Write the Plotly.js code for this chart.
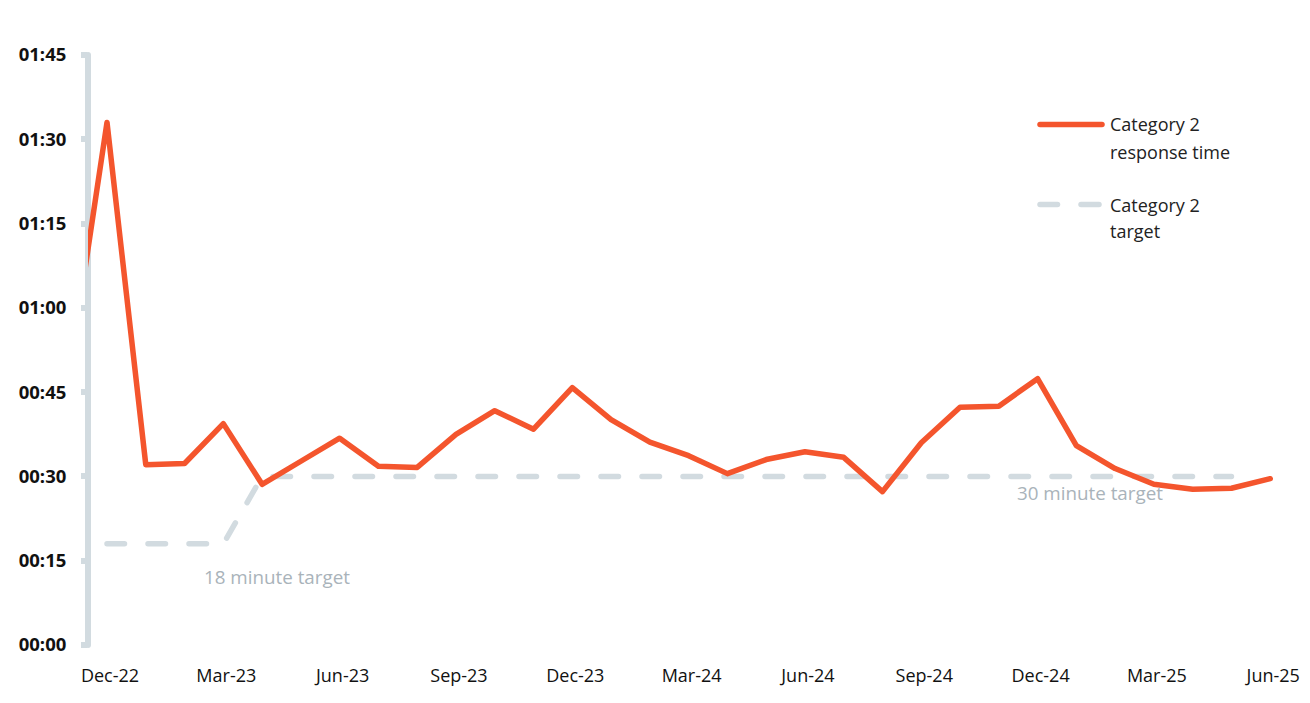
<!DOCTYPE html>
<html>
<head>
<meta charset="utf-8">
<script src="https://cdn.plot.ly/plotly-3.0.1.min.js"></script>
<style>
  html, body { margin: 0; padding: 0; background: #fff; }
  #chart { width: 1310px; height: 703px; }
  .scatterlayer .js-line { stroke-linecap: round !important; stroke-linejoin: round !important; }
  .shapelayer path.legend-cap { stroke-linecap: round !important; }
</style>
</head>
<body>
<div id="chart"></div>
<script>
// ---- data ----
const months = ['Nov-22','Dec-22','Jan-23','Feb-23','Mar-23','Apr-23','May-23','Jun-23','Jul-23','Aug-23',
  'Sep-23','Oct-23','Nov-23','Dec-23','Jan-24','Feb-24','Mar-24','Apr-24','May-24','Jun-24','Jul-24',
  'Aug-24','Sep-24','Oct-24','Nov-24','Dec-24','Jan-25','Feb-25','Mar-25','Apr-25','May-25','Jun-25'];
// response time in minutes
const responseTime = [47, 93.0, 32.1, 32.3, 39.4, 28.6, 32.7, 36.8, 31.8, 31.6,
  37.5, 41.7, 38.4, 45.8, 40.1, 36.1, 33.7, 30.5, 33.0, 34.4, 33.4,
  27.3, 36.0, 42.3, 42.5, 47.4, 35.5, 31.4, 28.6, 27.7, 27.9, 29.6];
const targetMonths = months.slice(1, 31); // Dec-22 .. May-25
const targetValues = [18, 18, 18, 18, 30, 30, 30, 30, 30, 30, 30, 30, 30, 30, 30, 30, 30, 30, 30, 30,
  30, 30, 30, 30, 30, 30, 30, 30, 30, 30];
const xTickVals = ['Dec-22','Mar-23','Jun-23','Sep-23','Dec-23','Mar-24','Jun-24','Sep-24','Dec-24','Mar-25','Jun-25'];
const yTickVals = [0, 15, 30, 45, 60, 75, 90, 105];
const yTickText = ['00:00','00:15','00:30','00:45','01:00','01:15','01:30','01:45'];
const seriesNames = ['Category 2<br>response time', 'Category 2<br>target'];

// ---- layout helpers ----
const W = 1310, H = 703;
const M = { l: 88, r: 20, t: 55, b: 58 };
const px = x => (x - M.l) / (W - M.l - M.r);
const py = y => (H - M.b - y) / (H - M.t - M.b);

const ORANGE = '#F4552D';
const GREY = '#D2DBE0';
const LABELGREY = '#A9B3BA';
const FONT = '"Open Sans", "Noto Sans", sans-serif';

const traces = [
  {
    x: targetMonths, y: targetValues, type: 'scatter', mode: 'lines',
    name: seriesNames[1], showlegend: false,
    line: { color: GREY, width: 5.5, dash: '17.5px,23.5px' },
    hoverinfo: 'skip'
  },
  {
    x: months, y: responseTime, type: 'scatter', mode: 'lines',
    name: seriesNames[0], showlegend: false,
    line: { color: ORANGE, width: 5.5 },
    hoverinfo: 'skip'
  }
];

const legendLines = seriesNames.map(s => s.split('<br>'));

const annotations = [
  { xref: 'x', yref: 'y', x: 5.38, y: 12.1, text: '18 minute target', showarrow: false,
    font: { family: FONT, size: 18.8, color: LABELGREY }, xanchor: 'center', yanchor: 'middle' },
  { xref: 'x', yref: 'y', x: 26.35, y: 27.0, text: '30 minute target', showarrow: false,
    font: { family: FONT, size: 18.8, color: LABELGREY }, xanchor: 'center', yanchor: 'middle' },
  { xref: 'paper', yref: 'paper', x: px(1108), y: py(124.5), text: legendLines[0][0], showarrow: false,
    font: { family: FONT, size: 18, color: '#222' }, xanchor: 'left', yanchor: 'middle' },
  { xref: 'paper', yref: 'paper', x: px(1108), y: py(151.5), text: legendLines[0][1], showarrow: false,
    font: { family: FONT, size: 18, color: '#222' }, xanchor: 'left', yanchor: 'middle' },
  { xref: 'paper', yref: 'paper', x: px(1108), y: py(205), text: legendLines[1][0], showarrow: false,
    font: { family: FONT, size: 18, color: '#222' }, xanchor: 'left', yanchor: 'middle' },
  { xref: 'paper', yref: 'paper', x: px(1108), y: py(231), text: legendLines[1][1], showarrow: false,
    font: { family: FONT, size: 18, color: '#222' }, xanchor: 'left', yanchor: 'middle' }
];

const shapes = [
  // y axis bar
  { type: 'line', xref: 'paper', yref: 'paper', x0: 0, x1: 0, y0: 0, y1: 1, layer: 'below',
    line: { color: GREY, width: 6 } },
  // legend samples
  { type: 'line', xref: 'paper', yref: 'paper', x0: px(1040), x1: px(1102), y0: py(124.5), y1: py(124.5),
    line: { color: ORANGE, width: 5.5 } },
  { type: 'line', xref: 'paper', yref: 'paper', x0: px(1040), x1: px(1057.5), y0: py(204.5), y1: py(204.5),
    line: { color: GREY, width: 5.5 } },
  { type: 'line', xref: 'paper', yref: 'paper', x0: px(1081), x1: px(1099), y0: py(204.5), y1: py(204.5),
    line: { color: GREY, width: 5.5 } }
];

const layout = {
  width: W, height: H,
  margin: M,
  paper_bgcolor: '#fff', plot_bgcolor: '#fff',
  showlegend: false,
  font: { family: FONT, color: '#111' },
  xaxis: {
    type: 'category',
    categoryorder: 'array', categoryarray: months,
    range: [0.51, 31.51],
    tickmode: 'array', tickvals: xTickVals, ticktext: xTickVals,
    showgrid: false, zeroline: false, showline: false, ticks: '',
    tickfont: { family: FONT, size: 18, color: '#111' },
    ticklabelstandoff: 18,
    ticklabelshift: 3,
    fixedrange: true
  },
  yaxis: {
    range: [0, 105],
    tickmode: 'array', tickvals: yTickVals, ticktext: yTickText,
    showgrid: false, zeroline: false, showline: false,
    ticks: 'outside', ticklen: 6, tickwidth: 6, tickcolor: GREY,
    tickfont: { family: FONT, size: 18.5, color: '#111', weight: 'bold' },
    ticklabelstandoff: 11,
    fixedrange: true
  },
  annotations: annotations,
  shapes: shapes
};

Plotly.newPlot('chart', traces, layout, { displayModeBar: false, staticPlot: true }).then(() => {
  document.querySelectorAll('.shapelayer path').forEach(p => p.classList.add('legend-cap'));
});
</script>
</body>
</html>
